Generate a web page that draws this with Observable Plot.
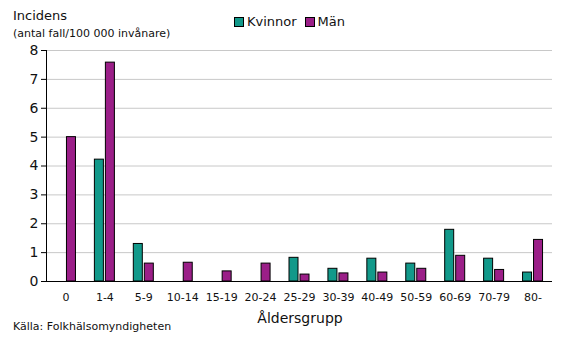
<!DOCTYPE html>
<html><head><meta charset="utf-8">
<script src="https://cdn.jsdelivr.net/npm/d3@7"></script>
<script src="https://cdn.jsdelivr.net/npm/@observablehq/plot@0.6"></script>
<style>
body{margin:0;background:#fff;font-family:"DejaVu Sans",Verdana,sans-serif;}
#wrap{position:relative;width:567px;height:353px;overflow:hidden;}
.t{position:absolute;white-space:nowrap;color:#111;}
</style></head><body>
<div id="wrap"></div>
<script>
const categories = ["0","1-4","5-9","10-14","15-19","20-24","25-29","30-39","40-49","50-59","60-69","70-79","80-"];
const kvinnor = [0, 4.22, 1.3, 0, 0, 0, 0.82, 0.44, 0.79, 0.62, 1.79, 0.79, 0.31];
const man = [5.0, 7.58, 0.62, 0.65, 0.35, 0.62, 0.24, 0.28, 0.31, 0.44, 0.89, 0.40, 1.44];
const series = ["Kvinnor","Män"];
const colors = ["#12998a","#9b1f88"];
const yTicks = [0,1,2,3,4,5,6,7,8];

const W = 567, H = 353, mL = 46, mR = 15, mT = 50, mB = 72;
const band = (W - mL - mR) / categories.length;
const barW = 9, gap = 2;

const data = [];
categories.forEach((c,i)=>{
  data.push({cat:c, s:"Kvinnor", v:kvinnor[i]});
  data.push({cat:c, s:"Män", v:man[i]});
});
const kData = data.filter(d=>d.s==="Kvinnor" && d.v>0);
const mData = data.filter(d=>d.s==="Män" && d.v>0);

const plot = Plot.plot({
  width: W, height: H,
  marginLeft: mL, marginRight: mR, marginTop: mT, marginBottom: mB,
  style:{fontFamily:"DejaVu Sans, Verdana, sans-serif", background:"transparent"},
  x:{domain:categories, padding:0, round:false, label:null},
  y:{domain:[0,8], label:null},
  color:{domain:series, range:colors},
  marks:[
    Plot.gridY(yTicks, {stroke:"#c8c8c8", strokeOpacity:1}),
    Plot.barY(kData, {x:"cat", y:"v", fill:"s", stroke:"#000", strokeWidth:1,
      insetLeft: band/2 - barW - gap/2, insetRight: band/2 + gap/2}),
    Plot.barY(mData, {x:"cat", y:"v", fill:"s", stroke:"#000", strokeWidth:1,
      insetLeft: band/2 + gap/2, insetRight: band/2 - barW - gap/2}),
    Plot.axisY(yTicks, {tickSize:5, fontSize:14, fill:"#111", tickPadding:3}),
    Plot.frame({anchor:"left", stroke:"#000"}),
    Plot.axisX({tickSize:0, fontSize:11, fill:"#111", tickPadding:12}),
    Plot.ruleY([0], {stroke:"#000"})
  ]
});
const wrap = document.getElementById("wrap");
plot.style.position="absolute"; plot.style.left="0"; plot.style.top="0";
wrap.appendChild(plot);

function addText(txt, x, y, size, extra){
  const d = document.createElement("div");
  d.className="t"; d.textContent=txt;
  d.style.left=x+"px"; d.style.top=y+"px"; d.style.fontSize=size+"px";
  if(extra) Object.assign(d.style, extra);
  wrap.appendChild(d);
  return d;
}
addText("Incidens", 13, 8, 13);
addText("(antal fall/100 000 invånare)", 13, 27, 11);
addText("Åldersgrupp", 300, 310, 14, {transform:"translateX(-50%)"});
addText("Källa: Folkhälsomyndigheten", 13, 320, 11);

// legend
const leg = document.createElement("div");
leg.className="t";
leg.style.left="234px"; leg.style.top="14px"; leg.style.fontSize="13px";
leg.style.display="flex"; leg.style.alignItems="center";
series.forEach((s,i)=>{
  const sw=document.createElement("span");
  sw.style.cssText=`display:inline-block;width:8px;height:8px;border:1px solid #000;background:${colors[i]};margin-right:3px;margin-left:${i?8:0}px`;
  const lb=document.createElement("span"); lb.textContent=s;
  leg.appendChild(sw); leg.appendChild(lb);
});
wrap.appendChild(leg);
</script>
</body></html>
